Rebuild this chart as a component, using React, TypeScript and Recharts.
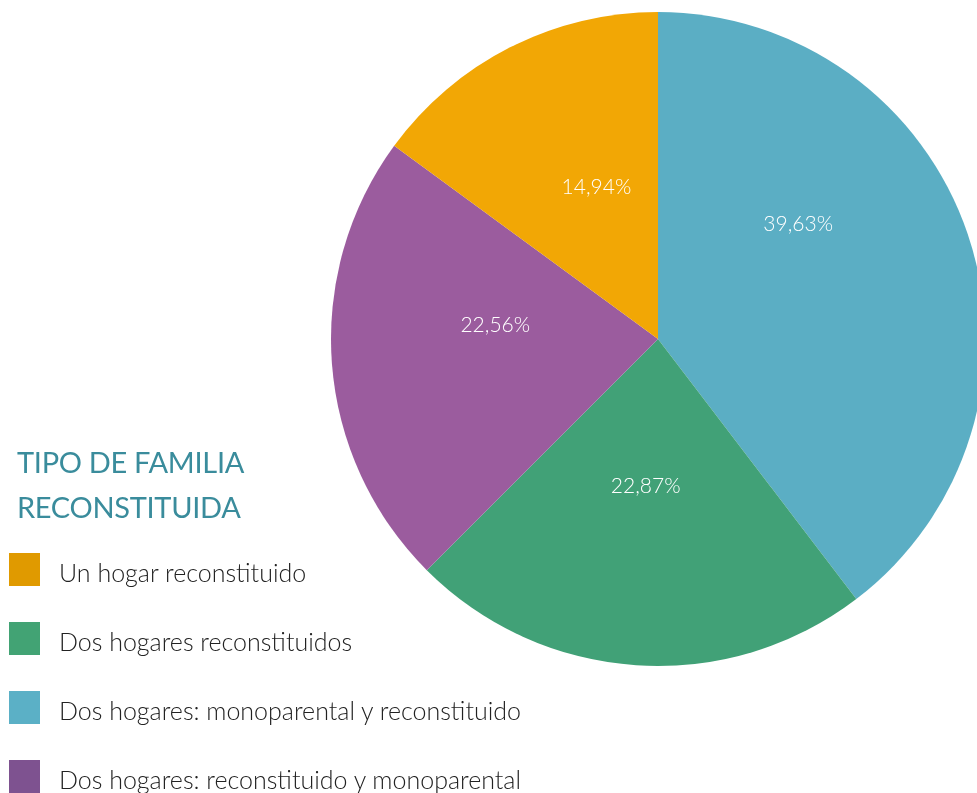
import { Cell, Pie, PieChart } from "recharts";

// slices, clockwise from 12 o'clock
const categories = [
  "Dos hogares: monoparental y reconstituido",
  "Dos hogares reconstituidos",
  "Dos hogares: reconstituido y monoparental",
  "Un hogar reconstituido",
];
const shares = [39.63, 22.87, 22.56, 14.94];
const sliceColors = ["#5BAEC4", "#41A177", "#9B5C9E", "#F2A705"];

// legend reads in a different order than the pie
const legendOrder = [3, 1, 0, 2];
const legendColors = ["#5BB0C6", "#42A374", "#7E5290", "#E09A00"];

// hand placement of the percentage labels (degrees shift, fraction of radius)
const labelShift = [21, -1, -10, -5];
const labelRadius = [0.557, 0.448, 0.5, 0.505];

const chartData = categories.map((name, i) => ({ name, value: shares[i] }));

const RAD = Math.PI / 180;
const FONT = "Lato, 'Open Sans', sans-serif";

function renderLabel(props: any) {
  const { cx, cy, midAngle, outerRadius, index } = props;
  const a = (midAngle + labelShift[index]) * RAD;
  const r = outerRadius * labelRadius[index];
  const x = cx + r * Math.cos(a);
  const y = cy - r * Math.sin(a);
  return (
    <text
      x={x}
      y={y}
      fill="#ffffff"
      textAnchor="middle"
      dominantBaseline="central"
      fontSize={21}
      fontWeight={300}
      fontFamily={FONT}
    >
      {shares[index].toFixed(2).replace(".", ",")}%
    </text>
  );
}

export default function App() {
  return (
    <div
      style={{
        position: "fixed",
        left: 8,
        top: 8,
        width: 969,
        height: 785,
        overflow: "hidden",
        fontFamily: FONT,
      }}
    >
      <PieChart width={969} height={785}>
        <Pie
          data={chartData}
          dataKey="value"
          nameKey="name"
          cx={645}
          cy={326}
          outerRadius={327}
          startAngle={90}
          endAngle={-270}
          stroke="none"
          labelLine={false}
          label={renderLabel}
          isAnimationActive={false}
        >
          {chartData.map((d, i) => (
            <Cell key={d.name} fill={sliceColors[i]} />
          ))}
        </Pie>
      </PieChart>

      <div
        style={{
          position: "absolute",
          left: 9,
          top: 431,
          color: "#3A8C9C",
          fontSize: 29,
          lineHeight: "45px",
          letterSpacing: -0.3,
        }}
      >
        TIPO DE FAMILIA
        <br />
        RECONSTITUIDA
      </div>

      {legendOrder.map((idx, row) => (
        <div
          key={categories[idx]}
          style={{
            position: "absolute",
            left: 1,
            top: 545 + row * 69,
            height: 33,
            display: "flex",
            alignItems: "center",
          }}
        >
          <div
            style={{
              width: 31,
              height: 33,
              background: legendColors[idx],
              marginRight: 19,
            }}
          />
          <span
            style={{
              fontSize: 25,
              color: "#222",
              fontWeight: 300,
              whiteSpace: "nowrap",
              position: "relative",
              top: 2,
            }}
          >
            {categories[idx]}
          </span>
        </div>
      ))}
    </div>
  );
}
